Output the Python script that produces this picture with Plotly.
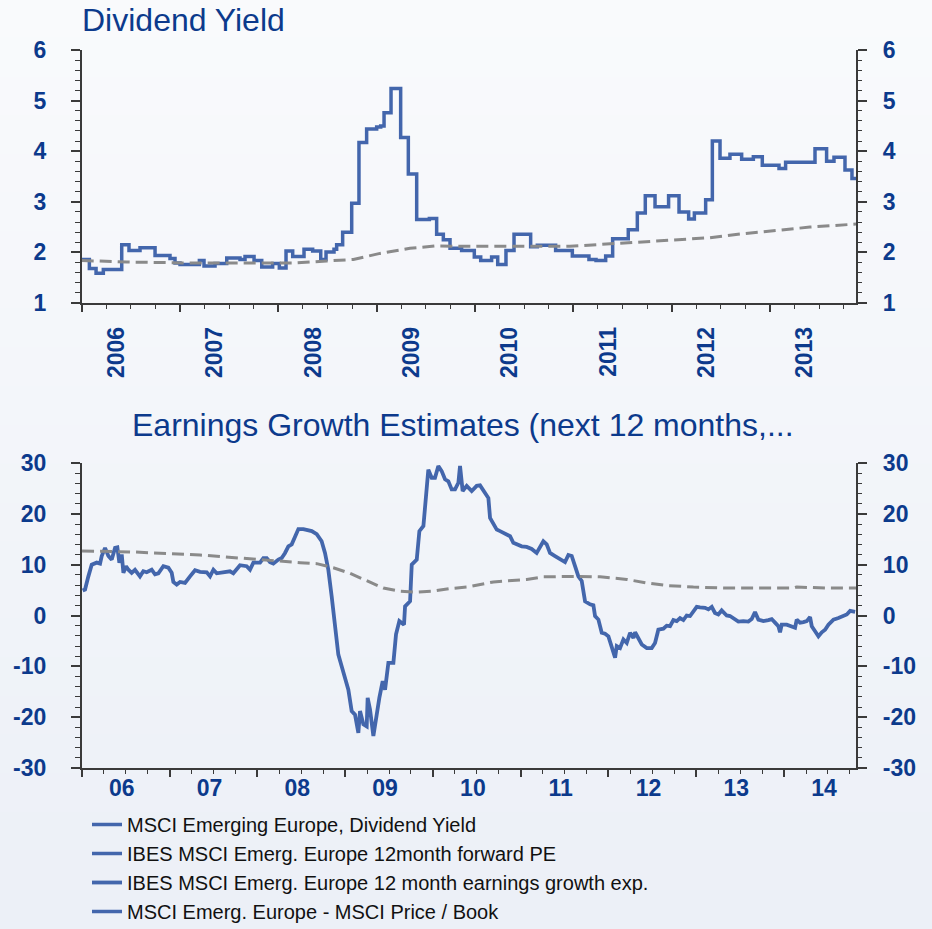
"""Dividend yield and earnings growth estimates for MSCI Emerging Europe."""

import plotly.graph_objects as go

NAVY = "#0c3a8c"
BLUE = "#4366ac"
GREY = "#8a8a8a"
AXIS = "#3a3a3a"

# --- top panel: dividend yield (decimal years) ---
dy_years = [
    2006.000, 2006.078, 2006.146, 2006.220, 2006.407, 2006.481, 2006.593, 2006.746,
    2006.898, 2006.949, 2007.000, 2007.197, 2007.244, 2007.356, 2007.475, 2007.610,
    2007.661, 2007.753, 2007.831, 2007.942, 2008.010, 2008.078, 2008.146, 2008.261,
    2008.349, 2008.431, 2008.485, 2008.566, 2008.593, 2008.654, 2008.746, 2008.820,
    2008.898, 2009.000, 2009.041, 2009.075, 2009.146, 2009.244, 2009.322, 2009.407,
    2009.536, 2009.610, 2009.678, 2009.746, 2009.864, 2009.993, 2010.058, 2010.169,
    2010.231, 2010.315, 2010.397, 2010.566, 2010.634, 2010.820, 2010.990, 2011.159,
    2011.231, 2011.329, 2011.400, 2011.559, 2011.651, 2011.732, 2011.831, 2011.969,
    2012.075, 2012.173, 2012.231, 2012.346, 2012.414, 2012.492, 2012.593, 2012.712,
    2012.831, 2012.922, 2013.092, 2013.159, 2013.458, 2013.576, 2013.651, 2013.763,
    2013.834, 2013.875,
]
dy_values = [
    1.86, 1.68, 1.59, 1.66, 2.15, 2.04, 2.09, 1.94,
    1.88, 1.79, 1.76, 1.84, 1.73, 1.78, 1.89, 1.86,
    1.92, 1.84, 1.71, 1.78, 1.69, 2.03, 1.92, 2.06,
    2.03, 1.86, 2.01, 2.06, 2.15, 2.40, 2.97, 4.17,
    4.44, 4.48, 4.50, 4.76, 5.24, 4.27, 3.55, 2.65,
    2.67, 2.36, 2.25, 2.08, 2.04, 1.91, 1.84, 1.91,
    1.76, 2.04, 2.36, 2.11, 2.14, 2.04, 1.93, 1.86,
    1.84, 1.93, 2.27, 2.45, 2.78, 3.12, 2.90, 3.12,
    2.80, 2.66, 2.78, 3.04, 4.20, 3.86, 3.94, 3.84,
    3.89, 3.72, 3.66, 3.78, 4.05, 3.80, 3.88, 3.63,
    3.46, 3.46,
]
dy_avg_years = [
    2006.000, 2006.458, 2007.136, 2008.153, 2008.492, 2008.763, 2009.034, 2009.339,
    2009.610, 2009.847, 2010.966, 2011.373, 2011.881, 2012.390, 2012.729, 2013.068,
    2013.407, 2013.875,
]
dy_avg_values = [
    1.84, 1.81, 1.79, 1.79, 1.83, 1.86, 1.98, 2.08,
    2.13, 2.12, 2.12, 2.17, 2.24, 2.29, 2.37, 2.44,
    2.50, 2.56,
]

# --- bottom panel: 12m forward earnings growth estimates ---
eg_years = [
    2006.011, 2006.038, 2006.076, 2006.114, 2006.171, 2006.209, 2006.228, 2006.266,
    2006.304, 2006.342, 2006.380, 2006.406, 2006.429, 2006.456, 2006.475, 2006.505,
    2006.532, 2006.569, 2006.607, 2006.664, 2006.702, 2006.740, 2006.797, 2006.835,
    2006.873, 2006.930, 2006.987, 2007.025, 2007.044, 2007.082, 2007.120, 2007.177,
    2007.234, 2007.291, 2007.348, 2007.424, 2007.462, 2007.500, 2007.538, 2007.614,
    2007.689, 2007.727, 2007.765, 2007.803, 2007.879, 2007.917, 2007.955, 2008.031,
    2008.069, 2008.107, 2008.145, 2008.183, 2008.240, 2008.278, 2008.316, 2008.354,
    2008.392, 2008.430, 2008.468, 2008.525, 2008.582, 2008.620, 2008.677, 2008.733,
    2008.771, 2008.809, 2008.847, 2008.885, 2008.923, 2008.961, 2008.999, 2009.037,
    2009.075, 2009.113, 2009.151, 2009.170, 2009.208, 2009.246, 2009.257, 2009.284,
    2009.322, 2009.352, 2009.390, 2009.428, 2009.455, 2009.493, 2009.550, 2009.580,
    2009.618, 2009.671, 2009.683, 2009.740, 2009.759, 2009.816, 2009.846, 2009.892,
    2009.948, 2009.986, 2010.024, 2010.062, 2010.100, 2010.138, 2010.176, 2010.214,
    2010.252, 2010.290, 2010.309, 2010.339, 2010.385, 2010.442, 2010.499, 2010.537,
    2010.594, 2010.632, 2010.651, 2010.689, 2010.727, 2010.765, 2010.822, 2010.879,
    2010.916, 2010.954, 2011.011, 2011.068, 2011.125, 2011.182, 2011.220, 2011.258,
    2011.296, 2011.334, 2011.391, 2011.448, 2011.505, 2011.543, 2011.581, 2011.619,
    2011.657, 2011.695, 2011.733, 2011.790, 2011.828, 2011.847, 2011.885, 2011.923,
    2011.961, 2011.999, 2012.037, 2012.075, 2012.094, 2012.132, 2012.170, 2012.208,
    2012.246, 2012.284, 2012.303, 2012.341, 2012.379, 2012.436, 2012.492, 2012.530,
    2012.568, 2012.625, 2012.663, 2012.701, 2012.739, 2012.777, 2012.815, 2012.853,
    2012.891, 2012.929, 2012.967, 2013.005, 2013.043, 2013.100, 2013.138, 2013.176,
    2013.213, 2013.251, 2013.289, 2013.346, 2013.384, 2013.441, 2013.479, 2013.536,
    2013.593, 2013.631, 2013.669, 2013.707, 2013.764, 2013.821, 2013.859, 2013.897,
    2013.935, 2013.954, 2013.973, 2014.030, 2014.087, 2014.125, 2014.144, 2014.182,
    2014.220, 2014.258, 2014.296, 2014.315, 2014.353, 2014.391, 2014.429, 2014.467,
    2014.505, 2014.562, 2014.619, 2014.676, 2014.714, 2014.752, 2014.809,
]
eg_values = [
    4.9, 5.1, 7.7, 10.0, 10.4, 10.2, 11.7, 13.3,
    11.7, 11.0, 13.3, 13.4, 10.4, 12.0, 8.4, 9.7,
    9.0, 8.4, 9.0, 7.7, 8.7, 8.5, 9.0, 8.1,
    8.3, 9.7, 9.4, 8.4, 6.6, 6.1, 6.6, 6.4,
    7.7, 8.9, 8.6, 8.5, 7.7, 9.0, 8.3, 8.5,
    8.7, 8.3, 9.0, 9.9, 9.7, 9.0, 10.4, 10.4,
    11.3, 11.3, 10.5, 10.2, 11.0, 11.3, 12.3, 13.6,
    14.0, 15.6, 17.0, 17.0, 16.8, 16.6, 16.0, 14.6,
    12.3, 9.0, 3.8, -2.8, -7.7, -10.0, -12.6, -14.6,
    -18.8, -19.5, -23.1, -18.8, -21.4, -21.8, -16.2, -18.5,
    -23.7, -19.8, -16.2, -12.9, -14.6, -9.3, -9.3, -3.7,
    -1.1, -1.8, 1.8, 2.8, 10.0, 11.0, 16.6, 17.6,
    28.7, 27.1, 27.1, 29.4, 28.4, 26.8, 26.4, 24.8,
    24.8, 26.1, 29.4, 24.5, 25.5, 24.5, 25.5, 25.6,
    24.1, 23.1, 19.2, 17.9, 16.9, 16.6, 16.0, 15.6,
    14.3, 14.0, 13.6, 13.5, 13.1, 12.3, 13.6, 14.6,
    14.0, 12.3, 11.7, 11.1, 10.5, 11.9, 11.7, 9.7,
    7.7, 6.8, 2.8, 2.2, 2.0, -0.1, -0.8, -3.4,
    -3.6, -4.1, -6.0, -8.3, -6.0, -6.4, -4.7, -5.4,
    -3.4, -4.4, -3.3, -4.7, -5.7, -6.4, -6.4, -5.4,
    -2.8, -2.6, -2.0, -2.1, -0.9, -1.1, -0.5, -0.9,
    0.0, -0.1, 0.7, 1.7, 1.6, 1.5, 1.2, 1.7,
    0.5, 0.2, 1.0, 0.0, -0.1, -0.8, -1.2, -1.1,
    -1.2, -0.7, 0.7, -0.8, -1.1, -0.9, -0.7, -1.4,
    -2.1, -3.3, -1.8, -1.8, -2.1, -2.4, -0.8, -1.4,
    -1.3, -1.1, -0.3, -2.1, -3.1, -4.1, -3.3, -2.8,
    -1.8, -0.8, -0.5, 0.0, 0.2, 0.9, 0.7,
]
eg_avg_years = [
    2006.004, 2006.588, 2007.348, 2007.917, 2008.487, 2008.677, 2008.866, 2009.056,
    2009.246, 2009.436, 2009.626, 2009.816, 2010.005, 2010.195, 2010.385, 2010.689,
    2011.068, 2011.258, 2011.638, 2011.904, 2012.208, 2012.435, 2012.663, 2012.967,
    2013.346, 2014.106, 2014.144, 2014.486, 2014.819,
]
eg_avg_values = [
    12.7, 12.5, 11.9, 11.1, 10.4, 10.2, 9.4, 8.3,
    6.8, 5.4, 4.8, 4.6, 4.8, 5.3, 5.6, 6.6,
    7.1, 7.6, 7.7, 7.6, 7.1, 6.4, 5.9, 5.6,
    5.4, 5.4, 5.6, 5.4, 5.4,
]

top_years = list(range(2006, 2014))
top_labels = [str(y) for y in top_years]
bottom_years = list(range(2006, 2015))
bottom_labels = [f"{y % 100:02d}" for y in bottom_years]
dy_ticks = [1, 2, 3, 4, 5, 6]
eg_ticks = [-30, -20, -10, 0, 10, 20, 30]

legend_names = [
    "MSCI Emerging Europe, Dividend Yield",
    "IBES MSCI Emerg. Europe 12month forward PE",
    "IBES MSCI Emerg. Europe 12 month earnings growth exp.",
    "MSCI Emerg. Europe - MSCI Price / Book",
]

W, H = 932, 929
X_DOMAIN = [81.7 / W, 856 / W]
TOP_DOMAIN = [1 - 303 / H, 1 - 50 / H]
BOT_DOMAIN = [1 - 768 / H, 1 - 463 / H]

TICK_FONT = dict(family="Liberation Sans, Arial", size=23, color=NAVY, weight="bold")
TITLE_FONT = dict(family="Liberation Sans, Arial", size=32, color=NAVY)


def _yaxis(ticks, minor, side, anchor, overlaying=None):
    # plain hyphen for negatives, as in the source chart
    prefix = "\u2002" if side == "right" else ""
    ax = dict(
        range=[ticks[0], ticks[-1]], tickvals=ticks,
        ticktext=[f"{prefix}{t}" for t in ticks], side=side, anchor=anchor,
        showline=True, linecolor=AXIS, linewidth=1.5,
        ticks="outside", ticklen=9, tickwidth=1.5, tickcolor=AXIS,
        minor=dict(dtick=minor, tick0=ticks[0], ticks="outside", ticklen=4.5,
                   tickwidth=1.2, tickcolor=AXIS),
        showgrid=False, zeroline=False, tickfont=TICK_FONT, fixedrange=True,
    )
    if side == "left":
        ax["ticklabelstandoff"] = 20
    if overlaying:
        ax["overlaying"] = overlaying
    return ax


def _xaxis(rng, vals, labels, anchor, angle, shift, standoff):
    return dict(
        range=rng, tickvals=vals, ticktext=labels, anchor=anchor, domain=X_DOMAIN,
        showline=True, linecolor=AXIS, linewidth=1.5,
        ticks="outside", ticklen=7, tickwidth=1.5, tickcolor=AXIS,
        minor=dict(dtick=0.25, tick0=2006, ticks="outside", ticklen=4, tickwidth=1.2,
                   tickcolor=AXIS),
        showgrid=False, zeroline=False, tickangle=angle,
        tickfont=TICK_FONT, ticklabelshift=shift, ticklabelstandoff=standoff,
    )


def build_figure() -> go.Figure:
    fig = go.Figure()
    fig.add_trace(go.Scatter(
        x=dy_years, y=dy_values, name=legend_names[0], mode="lines", line_shape="hv",
        line=dict(color=BLUE, width=3.5), xaxis="x", yaxis="y", legendrank=1,
    ))
    fig.add_trace(go.Scatter(
        x=dy_avg_years, y=dy_avg_values, mode="lines", showlegend=False,
        line=dict(color=GREY, width=3, dash="12px,6px"), xaxis="x", yaxis="y3",
    ))
    fig.add_trace(go.Scatter(
        x=eg_years, y=eg_values, name=legend_names[2], mode="lines",
        line=dict(color=BLUE, width=3.8), xaxis="x2", yaxis="y2", legendrank=3,
    ))
    fig.add_trace(go.Scatter(
        x=eg_avg_years, y=eg_avg_values, mode="lines", showlegend=False,
        line=dict(color=GREY, width=3, dash="12px,6px"), xaxis="x2", yaxis="y4",
    ))
    # legend-only series (not plotted in these panels)
    for name, rank in ((legend_names[1], 2), (legend_names[3], 4)):
        fig.add_trace(go.Scatter(
            x=[None], y=[None], name=name, mode="lines",
            line=dict(color=BLUE, width=3.5), xaxis="x", yaxis="y", legendrank=rank,
        ))

    # soft vertical background gradient
    n_bands = 24
    top_rgb, bot_rgb = (249, 250, 252), (236, 240, 247)
    for i in range(n_bands):
        t = i / (n_bands - 1)
        rgb = [round(a + (b - a) * t) for a, b in zip(top_rgb, bot_rgb)]
        fig.add_shape(
            type="rect", xref="paper", yref="paper", x0=0, x1=1,
            y0=1 - (i + 1) / n_bands, y1=1 - i / n_bands + 0.001,
            fillcolor=f"rgb({rgb[0]},{rgb[1]},{rgb[2]})", line_width=0, layer="below",
        )

    fig.add_annotation(
        text="Dividend Yield", xref="paper", yref="paper", x=80 / W, y=1 - 20 / H,
        xanchor="left", yanchor="middle", showarrow=False, font=TITLE_FONT,
    )
    fig.add_annotation(
        text="Earnings Growth Estimates (next 12 months,...", xref="paper", yref="paper",
        x=463 / W, y=1 - 425 / H, xanchor="center", yanchor="middle", showarrow=False,
        font=TITLE_FONT,
    )

    fig.update_layout(
        width=W, height=H,
        margin=dict(l=0, r=0, t=0, b=0, autoexpand=False),
        paper_bgcolor="#f3f5f9",
        plot_bgcolor="rgba(0,0,0,0)",
        xaxis=_xaxis([2006.0, 2013.875], top_years, top_labels, "y", -90, 35, 6),
        xaxis2=_xaxis([2006.0, 2014.819], bottom_years, bottom_labels, "y2", 0, 40, -8),
        yaxis=dict(_yaxis(dy_ticks, 0.2, "left", "x"), domain=TOP_DOMAIN),
        yaxis3=_yaxis(dy_ticks, 0.2, "right", "x", overlaying="y"),
        yaxis2=dict(_yaxis(eg_ticks, 2, "left", "x2"), domain=BOT_DOMAIN),
        yaxis4=_yaxis(eg_ticks, 2, "right", "x2", overlaying="y2"),
        showlegend=True,
        legend=dict(
            x=87 / W, y=1 - 805 / H, xanchor="left", yanchor="top",
            bgcolor="rgba(0,0,0,0)", traceorder="normal",
            font=dict(family="Liberation Sans, Arial", size=20, color="#111111"),
        ),
    )
    return fig


fig = build_figure()
fig.write_html(
    "out.html",
    config={"displayModeBar": False},
    post_script="document.body.style.margin='0';document.body.style.overflow='hidden';",
)
